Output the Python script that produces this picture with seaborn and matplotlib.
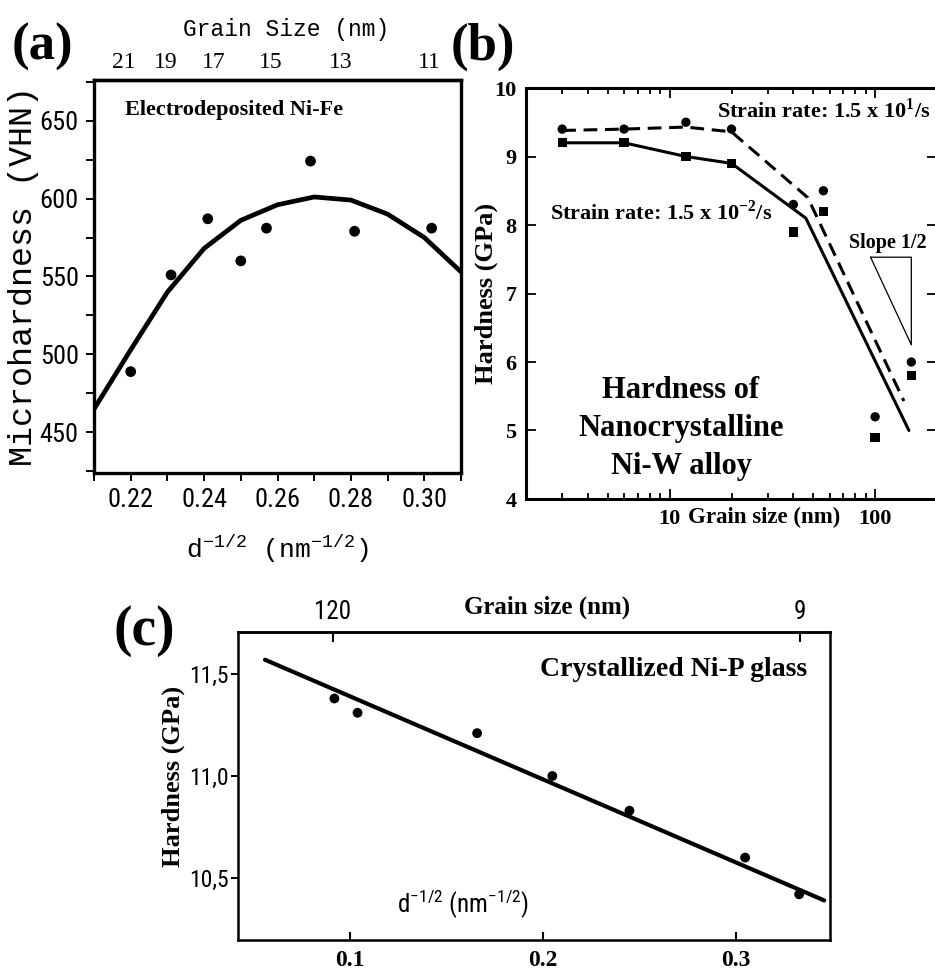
import numpy as np
import matplotlib
matplotlib.use("Agg")
import matplotlib.pyplot as plt
from matplotlib.ticker import MultipleLocator, LogLocator, NullFormatter
import seaborn as sns

# ---- (a) electrodeposited Ni-Fe, hardness vs d^-1/2
a_dinv = [0.220, 0.231, 0.241, 0.250, 0.257, 0.269, 0.281, 0.302]
a_hv = [489, 551, 587, 560, 581, 624, 579, 581]
a_fit_dinv = [0.21, 0.22, 0.23, 0.24, 0.25, 0.26, 0.27, 0.28, 0.29, 0.30, 0.31]
a_fit_hv = [465, 503, 540, 568, 586, 596, 601, 599, 590, 575, 553]
a_xticks = [0.22, 0.24, 0.26, 0.28, 0.30]
a_xticklabels = ["0.22", "0.24", "0.26", "0.28", "0.30"]
a_yticks = [450, 500, 550, 600, 650]
a_top_nm = [21, 19, 17, 15, 13, 11]

# ---- (b) nanocrystalline Ni-W, hardness vs grain size
b_nm = [3, 6, 12, 20, 40, 56, 100, 150]
b_fast_gpa = [9.4, 9.4, 9.5, 9.4, 8.3, 8.5, 5.2, 6.0]   # 1.5 x 10^1 /s
b_slow_gpa = [9.2, 9.2, 9.0, 8.9, 7.9, 8.2, 4.9, 5.8]   # 1.5 x 10^-2 /s
b_fast_line_nm = [3, 6, 12, 20, 47, 138]
b_fast_line_gpa = [9.38, 9.40, 9.43, 9.36, 8.40, 5.43]
b_slow_line_nm = [3, 6, 12, 20, 46, 146]
b_slow_line_gpa = [9.2, 9.2, 9.0, 8.9, 8.1, 5.0]
b_tri_nm = [95, 150, 150, 95]
b_tri_gpa = [7.53, 7.53, 6.25, 7.53]
b_xticks = [10, 100]
b_yticks = [4, 5, 6, 7, 8, 9, 10]

# ---- (c) crystallized Ni-P glass
c_dinv = [0.092, 0.104, 0.166, 0.205, 0.245, 0.305, 0.333]
c_gpa = [11.38, 11.31, 11.21, 11.00, 10.83, 10.60, 10.42]
c_fit_dinv = [0.056, 0.346]
c_fit_gpa = [11.57, 10.39]
c_xticks = [0.1, 0.2, 0.3]
c_yticks = [10.5, 11.0, 11.5]
c_yticklabels = ["10,5", "11,0", "11,5"]
c_top_nm = [120, 9]

sns.set_theme(style="ticks", rc={
    "axes.edgecolor": "black", "text.color": "black", "axes.labelcolor": "black",
    "xtick.color": "black", "ytick.color": "black",
})
SERIF = ["Liberation Serif", "DejaVu Serif"]
MONO = ["Liberation Mono", "DejaVu Sans Mono"]
NARROW = ["Liberation Sans Narrow", "Roboto Condensed", "Liberation Sans", "DejaVu Sans"]
plt.rcParams["font.family"] = SERIF

W, H = 935, 971


def px_axes(left, top, right, bottom):
    return [left / W, 1 - bottom / H, (right - left) / W, (bottom - top) / H]


def dinv_to_nm(x):
    x = np.asarray(x, dtype=float)
    with np.errstate(divide="ignore", invalid="ignore"):
        return 1.0 / x ** 2


def nm_to_dinv(d):
    d = np.asarray(d, dtype=float)
    with np.errstate(divide="ignore", invalid="ignore"):
        return 1.0 / np.sqrt(d)


fig = plt.figure(figsize=(W / 100, H / 100), dpi=100)

# ================= (a)
axa = fig.add_axes(px_axes(94, 80, 461, 473))
sns.lineplot(x=a_fit_dinv, y=a_fit_hv, ax=axa, color="black", lw=3.4,
             sort=False, estimator=None)
sns.scatterplot(x=a_dinv, y=a_hv, ax=axa, color="black", s=60,
                edgecolor="none", zorder=3)
axa.set_xlim(0.21, 0.31)
axa.set_ylim(424, 676)
axa.set_xticks(a_xticks, labels=a_xticklabels, fontfamily=NARROW, fontsize=19)
axa.xaxis.set_minor_locator(MultipleLocator(0.01))
axa.set_yticks(a_yticks, labels=[str(v) for v in a_yticks], fontfamily=NARROW, fontsize=19)
axa.yaxis.set_minor_locator(MultipleLocator(25))
axa.tick_params(which="both", direction="out", length=6, width=1.4, pad=5)
for sp in axa.spines.values():
    sp.set_linewidth(2.4)
axa.set_xlabel("d$^{\\mathregular{-1/2}}$ (nm$^{\\mathregular{-1/2}}$)",
               fontfamily=MONO, fontsize=19)
axa.xaxis.set_label_coords(0.5, -0.15)
axa.set_ylabel("Microhardness (VHN)", fontfamily=MONO, fontsize=24)
axa.yaxis.set_label_coords(-0.15, 0.5)
axa.text(0.084, 0.924, "Electrodeposited Ni-Fe", transform=axa.transAxes,
         fontsize=16, fontweight="bold", ha="left", va="center")

topa = axa.secondary_xaxis("top", functions=(dinv_to_nm, nm_to_dinv))
topa.set_xticks(a_top_nm, labels=[str(g) for g in a_top_nm], fontfamily=SERIF, fontsize=17)
topa.tick_params(length=0, pad=5)
topa.spines["top"].set_linewidth(2.4)
topa.set_xlabel("Grain Size (nm)", fontfamily=MONO, fontsize=16.5, labelpad=11.5)
topa.xaxis.label.set_x(0.523)

fig.text(42 / W, 1 - 47 / H, "(a)", fontsize=38, fontweight="bold",
         ha="center", va="center")

# ================= (b)
axb = fig.add_axes(px_axes(526, 88, 937, 499))
axb.set_xscale("log")
sns.lineplot(x=b_fast_line_nm, y=b_fast_line_gpa, ax=axb, color="black", lw=2.2,
             linestyle=(0, (4.5, 2.5)), sort=False, estimator=None)
sns.lineplot(x=b_slow_line_nm, y=b_slow_line_gpa, ax=axb, color="black", lw=2.2,
             sort=False, estimator=None)
sns.lineplot(x=b_tri_nm, y=b_tri_gpa, ax=axb, color="black", lw=0.9,
             sort=False, estimator=None)
sns.scatterplot(x=b_nm, y=b_fast_gpa, ax=axb, marker="o", color="black", s=45,
                edgecolor="none", zorder=3)
sns.scatterplot(x=b_nm, y=b_slow_gpa, ax=axb, marker="s", color="black", s=45,
                edgecolor="none", zorder=3)
axb.set_xlim(2, 200)
axb.set_ylim(4, 10)
axb.set_xticks(b_xticks, labels=[str(v) for v in b_xticks], fontsize=16, fontweight="bold")
axb.xaxis.set_minor_locator(LogLocator(base=10, subs=np.arange(2, 10)))
axb.xaxis.set_minor_formatter(NullFormatter())
axb.set_yticks(b_yticks, labels=[str(v) for v in b_yticks], fontsize=16, fontweight="bold")
axb.tick_params(which="both", direction="in", top=True, right=True, width=1.3)
axb.tick_params(which="major", length=7, pad=7)
axb.tick_params(which="minor", length=4)
for sp in axb.spines.values():
    sp.set_linewidth(2.2)
axb.set_xlabel("Grain size (nm)", fontsize=16.5, fontweight="bold", va="center")
axb.xaxis.set_label_coords(0.579, -0.046)
axb.set_ylabel("Hardness (GPa)", fontsize=19, fontweight="bold")
axb.yaxis.set_label_coords(-0.068, 0.5)
axb.text(0.725, 0.946, "Strain rate: 1.5 x 10$^{\\mathregular{1}}$/s", transform=axb.transAxes,
         fontsize=16, fontweight="bold", ha="center", va="center")
axb.text(0.328, 0.698, "Strain rate: 1.5 x 10$^{\\mathregular{-2}}$/s", transform=axb.transAxes,
         fontsize=16, fontweight="bold", ha="center", va="center")
axb.text(0.881, 0.623, "Slope 1/2", transform=axb.transAxes,
         fontsize=14.5, fontweight="bold", ha="center", va="center")
axb.text(0.377, 0.172, "Hardness of\nNanocrystalline\nNi-W alloy", transform=axb.transAxes,
         fontsize=22, fontweight="bold", ha="center", va="center", linespacing=1.4)

fig.text(483 / W, 1 - 47 / H, "(b)", fontsize=38, fontweight="bold",
         ha="center", va="center")

# ================= (c)
axc = fig.add_axes(px_axes(238, 632, 830, 940))
sns.lineplot(x=c_fit_dinv, y=c_fit_gpa, ax=axc, color="black", lw=3.0,
             sort=False, estimator=None)
sns.scatterplot(x=c_dinv, y=c_gpa, ax=axc, color="black", s=50,
                edgecolor="none", zorder=3)
axc.set_xlim(0.042, 0.349)
axc.set_ylim(10.196, 11.706)
axc.set_xticks(c_xticks, labels=[str(v) for v in c_xticks], fontsize=17, fontweight="bold")
axc.set_yticks(c_yticks, labels=c_yticklabels, fontfamily=NARROW, fontsize=17)
axc.tick_params(axis="x", direction="in", length=6, width=1.5, pad=7)
axc.tick_params(axis="y", direction="out", length=5, width=1.5, pad=2)
for sp in axc.spines.values():
    sp.set_linewidth(1.8)
axc.set_ylabel("Hardness (GPa)", fontsize=19, fontweight="bold")
axc.yaxis.set_label_coords(-0.09, 0.53)
axc.text(0.38, 0.114, "d$^{\\mathregular{-1/2}}$ (nm$^{\\mathregular{-1/2}}$)",
         transform=axc.transAxes, fontfamily=NARROW, fontsize=18,
         ha="center", va="center")
axc.text(0.735, 0.877, "Crystallized Ni-P glass", transform=axc.transAxes,
         fontsize=20, fontweight="bold", ha="center", va="center")

topc = axc.secondary_xaxis("top", functions=(dinv_to_nm, nm_to_dinv))
topc.set_xticks(c_top_nm, labels=[str(g) for g in c_top_nm], fontfamily=NARROW, fontsize=18)
topc.tick_params(direction="in", length=7, width=1.5, pad=6)
topc.spines["top"].set_linewidth(1.8)
topc.set_xlabel("Grain size (nm)", fontsize=18, fontweight="bold", labelpad=-10)
topc.xaxis.label.set_x(0.522)

fig.text(144 / W, 1 - 631 / H, "(c)", fontsize=40, fontweight="bold",
         ha="center", va="center")

fig.savefig("out.png", dpi=100)
